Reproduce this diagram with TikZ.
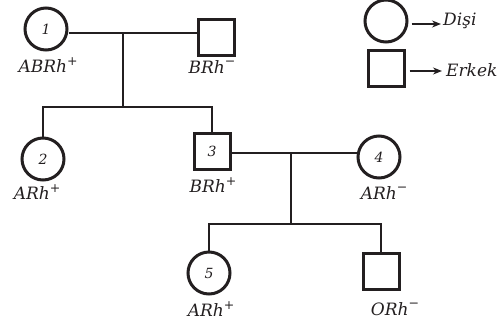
\documentclass[tikz,border=0pt]{standalone}
\usepackage{fontspec}
\setmainfont{DejaVu Serif}
\usetikzlibrary{arrows.meta}
\definecolor{ink}{HTML}{231F20}
\newcommand\rhsup[1]{\raisebox{0.45em}{\fontsize{12.5}{13}\selectfont\upshape #1}}
\begin{document}
\begin{tikzpicture}[x=1pt,y=-1pt,
  every node/.style={text=ink},
  fem/.style={circle,draw=ink,line width=3pt,minimum size=42pt,inner sep=0pt,font=\fontsize{14}{17}\selectfont\itshape},
  mal/.style={rectangle,draw=ink,line width=3pt,minimum size=36pt,inner sep=0pt,font=\fontsize{14}{17}\selectfont\itshape},
  lab/.style={font=\fontsize{17}{20}\selectfont\itshape,inner sep=0pt},
  link/.style={draw=ink,line width=2.9pt},
  arr/.style={draw=ink,line width=1.5pt,-{Stealth[length=9pt,width=7pt]}}]
\useasboundingbox (0,0) rectangle (503,327);

% generation I
\node[fem] (p1) at (46,29) {1};
\node[mal] (p1m) at (216,37) {};
\node[lab] (l1) at (48,65) {ABRh\rhsup{+}};
\node[lab] (l1m) at (212,67) {BRh\rhsup{−}};
\coordinate (m1) at (123,33);
\coordinate (s1) at (123,107);

% generation II
\node[fem] (p2) at (43,159) {2};
\node[mal] (p3) at (212,151) {3};
\node[fem] (p4) at (379,157) {4};
\node[lab] (l2) at (37,192) {ARh\rhsup{+}};
\node[lab] (l3) at (213,185) {BRh\rhsup{+}};
\node[lab] (l4) at (384,193) {ARh\rhsup{−}};
\coordinate (m2) at (291,153);
\coordinate (s2) at (291,224);

% generation III
\node[fem] (p5) at (209,273) {5};
\node[mal] (p6) at (381,271) {};
\node[lab] (l5) at (211,309) {ARh\rhsup{+}};
\node[lab] (l6) at (395,309) {ORh\rhsup{−}};

% connectors
\draw[link] (p1.east |- m1) -- (p1m.west |- m1);
\draw[link] (m1) -- (s1);
\draw[link] (p2.north) -- (p2.north |- s1) -- (p3.north |- s1) -- (p3.north);
\draw[link] (p3.east |- m2) -- (p4.west |- m2);
\draw[link] (m2) -- (s2);
\draw[link] (p5.north) -- (p5.north |- s2) -- (p6.north |- s2) -- (p6.north);

% legend
\node[fem] (lc) at (386,21) {};
\node[mal] (ls) at (386,68) {};
\coordinate (a1) at (441,24);
\coordinate (a2) at (442,71);
\draw[arr] ([xshift=3pt]lc.east |- a1) -- (a1);
\draw[arr] ([xshift=4pt]ls.east |- a2) -- (a2);
\node[lab,anchor=west] (t1) at (443,21) {Dişi};
\node[lab,anchor=west] (t2) at (446,70) {Erkek};
\end{tikzpicture}
\end{document}
